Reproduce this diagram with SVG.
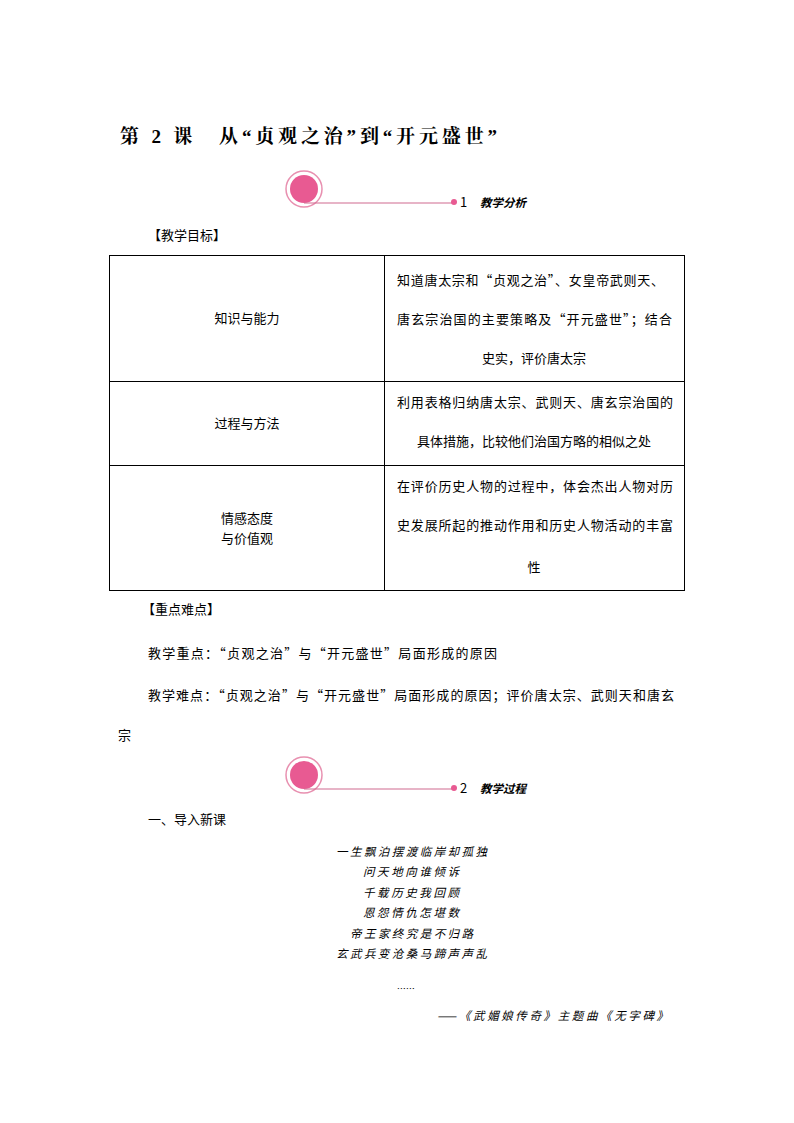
<svg xmlns="http://www.w3.org/2000/svg" width="794" height="1123" viewBox="0 0 794 1123">
<style>
text{font-family:"Noto Sans CJK SC","Noto Sans",sans-serif;font-size:13px;fill:#000}
.t{font-family:"Liberation Serif","Noto Serif CJK SC","Noto Sans CJK SC",serif;font-size:19px;font-weight:bold}
.k{font-family:"Noto Sans CJK SC",sans-serif;font-size:11.5px;font-style:italic;font-weight:bold}
.p{font-size:11.5px;font-style:italic}
.c{text-anchor:middle}
line.g{stroke:#000;stroke-width:1}
</style>
<rect width="794" height="1123" fill="#fff"/>
<text class="t" x="120" y="143" textLength="377" lengthAdjust="spacing">第 2 课　从“贞观之治”到“开元盛世”</text>
<g id="h1">
<circle cx="304" cy="189" r="18" fill="none" stroke="#e890b0" stroke-width="1.5"/>
<circle cx="304" cy="189" r="14" fill="#e85a92"/>
<line x1="304" y1="203" x2="452" y2="203" stroke="#d06a90" stroke-width="1.2"/>
<circle cx="454" cy="202" r="3" fill="#e85a92"/>
<text x="460" y="207">1</text><text class="k" x="480" y="207">教学分析</text>
</g>
<text x="148" y="240">【教学目标】</text>
<g id="table" fill="none" stroke="#000">
<rect x="109.5" y="255.5" width="575" height="335"/>
<line class="g" x1="384.5" y1="255" x2="384.5" y2="590"/>
<line class="g" x1="109" y1="381.5" x2="684" y2="381.5"/>
<line class="g" x1="109" y1="465.5" x2="684" y2="465.5"/>
</g>
<text class="c" x="247" y="323">知识与能力</text>
<text x="397" y="285" textLength="267" lengthAdjust="spacing">知道唐太宗和“贞观之治”、女皇帝武则天、</text>
<text x="397" y="324" textLength="275" lengthAdjust="spacing">唐玄宗治国的主要策略及“开元盛世”；结合</text>
<text class="c" x="534" y="363">史实，评价唐太宗</text>
<text class="c" x="247" y="428">过程与方法</text>
<text x="397" y="407" textLength="276" lengthAdjust="spacing">利用表格归纳唐太宗、武则天、唐玄宗治国的</text>
<text class="c" x="534" y="446">具体措施，比较他们治国方略的相似之处</text>
<text class="c" x="247" y="523">情感态度</text>
<text class="c" x="247" y="543">与价值观</text>
<text x="397" y="491" textLength="276" lengthAdjust="spacing">在评价历史人物的过程中，体会杰出人物对历</text>
<text x="397" y="530" textLength="276" lengthAdjust="spacing">史发展所起的推动作用和历史人物活动的丰富</text>
<text class="c" x="534" y="572">性</text>
<text x="142" y="614">【重点难点】</text>
<text x="148" y="658" textLength="349" lengthAdjust="spacing">教学重点：“贞观之治”与“开元盛世”局面形成的原因</text>
<text x="148" y="700" textLength="526" lengthAdjust="spacing">教学难点：“贞观之治”与“开元盛世”局面形成的原因；评价唐太宗、武则天和唐玄</text>
<text x="118" y="740">宗</text>
<g id="h2">
<circle cx="304" cy="775" r="18" fill="none" stroke="#e890b0" stroke-width="1.5"/>
<circle cx="304" cy="775" r="14" fill="#e85a92"/>
<line x1="304" y1="789" x2="452" y2="789" stroke="#d06a90" stroke-width="1.2"/>
<circle cx="454" cy="788" r="3" fill="#e85a92"/>
<text x="460" y="793">2</text><text class="k" x="480" y="793">教学过程</text>
</g>
<text x="148" y="824">一、导入新课</text>
<g class="poem">
<text class="p" x="336" y="856" textLength="151" lengthAdjust="spacing">一生飘泊摆渡临岸却孤独</text>
<text class="p" x="363" y="876" textLength="96" lengthAdjust="spacing">问天地向谁倾诉</text>
<text class="p" x="363" y="897" textLength="96" lengthAdjust="spacing">千载历史我回顾</text>
<text class="p" x="363" y="917" textLength="96" lengthAdjust="spacing">恩怨情仇怎堪数</text>
<text class="p" x="350" y="938" textLength="123" lengthAdjust="spacing">帝王家终究是不归路</text>
<text class="p" x="336" y="958" textLength="151" lengthAdjust="spacing">玄武兵变沧桑马蹄声声乱</text>
<text class="p" x="396" y="992" style="font-size:9px">……</text>
<text class="p" x="437" y="1020" textLength="231" lengthAdjust="spacing">——《武媚娘传奇》主题曲《无字碑》</text>
</g>
</svg>
